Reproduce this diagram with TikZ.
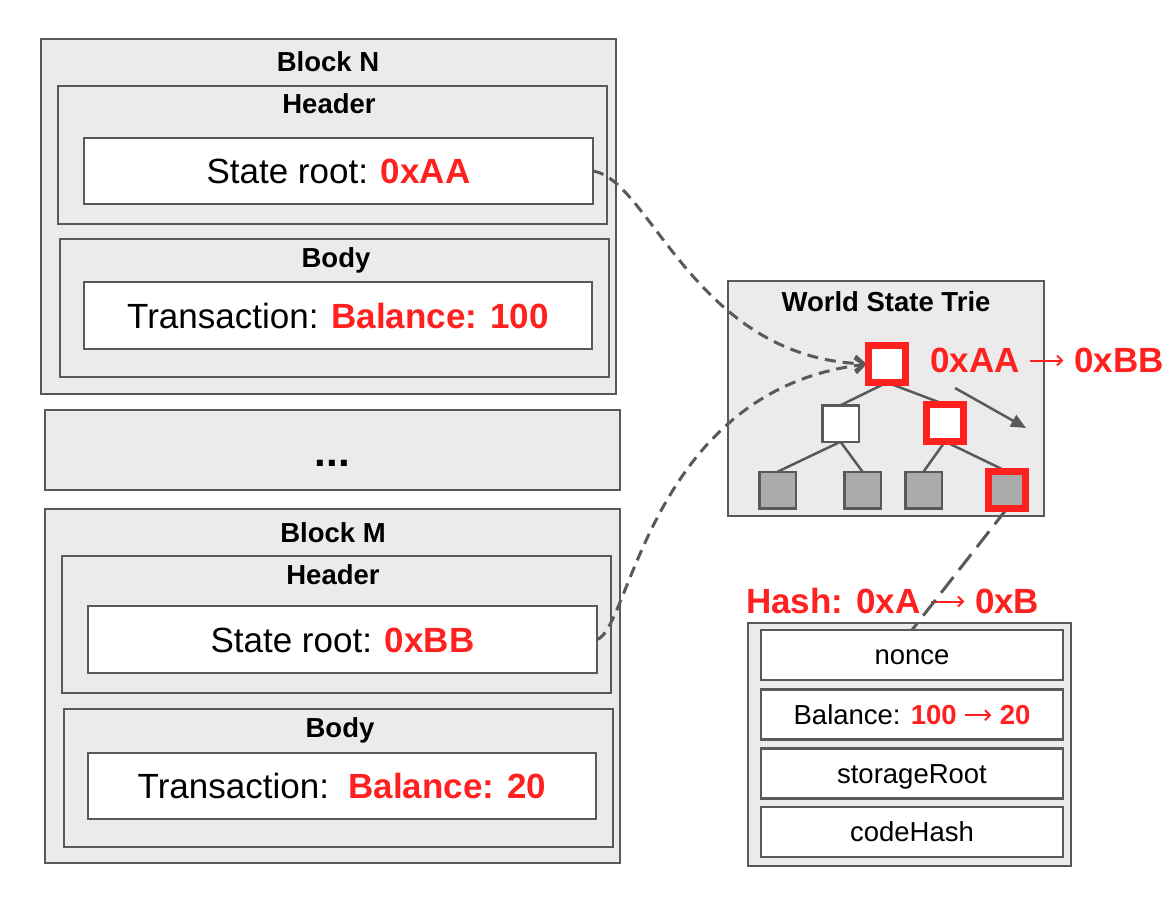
\documentclass[tikz,border=0pt]{standalone}
\usepackage{fontspec}
\setmainfont{Liberation Sans}
\usetikzlibrary{arrows.meta}
\definecolor{lc}{HTML}{595959}
\definecolor{bg}{HTML}{EBEBEB}
\definecolor{leafc}{HTML}{ABABAB}
\definecolor{hl}{HTML}{FF2020}
\pgfdeclarelayer{front}
\pgfsetlayers{main,front}
\newcommand{\bigf}{\fontsize{35}{40}\selectfont}
\newcommand{\midf}{\fontsize{27.5}{32}\selectfont}
\newcommand{\hlb}[1]{\textcolor{hl}{\bfseries #1}}
\newcommand{\tarr}[3]{\tikz[baseline=0pt,x=1pt,y=1pt]{\draw[draw=hl,line width=#3,
  -{Straight Barb[length=5pt,width=10pt,line width=#3]}] (0,#1) -- (#2,#1);}}
\tikzset{
  sz/.style 2 args={minimum width=#1, minimum height=#2},
  outerbox/.style={draw=lc, line width=2.5pt, fill=bg, inner sep=0pt, outer sep=0pt},
  whitebox/.style={draw=lc, line width=2.5pt, fill=white, inner sep=0pt, outer sep=0pt,
    font=\bigf, text height=25pt, text depth=0pt},
  fieldbox/.style={draw=lc, line width=2.5pt, fill=white, inner sep=0pt, outer sep=0pt,
    font=\midf, text height=19.5pt, text depth=0pt, minimum width=302, minimum height=50},
  ttl/.style={font=\midf\bfseries, anchor=base, inner sep=0pt},
  tnode/.style={draw=lc, line width=2.5pt, fill=white, minimum size=36.5, inner sep=0pt, outer sep=0pt},
  tleaf/.style={draw=lc, line width=2.5pt, fill=leafc, minimum size=36.5, inner sep=0pt, outer sep=0pt},
  rnode/.style={draw=hl, line width=7pt, fill=white, minimum size=37, inner sep=0pt, outer sep=0pt},
  rleaf/.style={draw=hl, line width=7pt, fill=leafc, minimum size=37, inner sep=0pt, outer sep=0pt},
  tedge/.style={draw=lc, line width=2.5pt},
  link/.style={draw=lc, line width=3pt, dash pattern=on 11pt off 7pt,
    -{Straight Barb[length=9pt,width=15pt,line width=3pt]}, shorten >=2pt},
  hlink/.style={draw=lc, line width=3pt, dash pattern=on 20pt off 9pt},
}
\begin{document}
\begin{tikzpicture}[x=1pt, y=-1pt]
\useasboundingbox (0,0) rectangle (1176,904);

% Block N
\node[outerbox, sz={575}{355}] (blockN) at (328.5,216.5) {};
\node[ttl] (blockNt) at (328,72) {Block N};
\node[outerbox, sz={549}{138}] (headN) at (332.5,155) {};
\node[ttl] (headNt) at (329,114) {Header};
\node[whitebox, sz={509}{66}] (stN) at (338.5,171) {State root: \hlb{0xAA}};
\node[outerbox, sz={549}{138}] (bodyN) at (334.5,308) {};
\node[ttl] (bodyNt) at (336,268) {Body};
\node[whitebox, sz={508}{67}] (txN) at (338,315.5) {Transaction: \hlb{Balance: 100}};

% dots
\node[outerbox, sz={575}{80}] (dots) at (332.5,450) {};
\node[font=\fontsize{42}{46}\selectfont\bfseries, anchor=base, inner sep=0pt] (dotst) at (332.5,466) {...};

% Block M
\node[outerbox, sz={575}{354}] (blockM) at (332.5,686) {};
\node[ttl] (blockMt) at (333,542) {Block M};
\node[outerbox, sz={549}{137}] (headM) at (336.5,624.5) {};
\node[ttl] (headMt) at (333,584) {Header};
\node[whitebox, sz={509}{67}] (stM) at (342.5,639.5) {State root: \hlb{0xBB}};
\node[outerbox, sz={549}{138}] (bodyM) at (338.5,778) {};
\node[ttl] (bodyMt) at (340,737) {Body};
\node[whitebox, sz={508}{66}] (txM) at (342,786) {Transaction:\ \ \hlb{Balance: 20}};

% World State Trie
\node[outerbox, sz={316}{235}] (trie) at (886,398.5) {};
\node[ttl] (triet) at (886,312) {World State Trie};
\node[font=\bigf\bfseries, anchor=base west, inner sep=0pt, text=hl] (rootlbl) at (930,372.5)
  {0xAA \tarr{12}{33}{2pt} 0xBB};

\begin{pgfonlayer}{front}
\node[rnode] (root) at (887,364) {};
\node[tnode] (lm) at (840.5,423.5) {};
\node[rnode] (rm) at (945,423) {};
\node[tleaf] (l1) at (777.5,490) {};
\node[tleaf] (l2) at (862.5,490) {};
\node[tleaf] (l3) at (923.5,490) {};
\node[rleaf] (l4) at (1007,490) {};
\end{pgfonlayer}

\draw[tedge] (root.south) -- (lm.north);
\draw[tedge] (root.south) -- (rm.north);
\draw[tedge] (lm.south) -- (l1.north);
\draw[tedge] (lm.south) -- (l2.north);
\draw[tedge] (rm.south) -- (l3.north);
\draw[tedge] (rm.south) -- (l4.north);
\coordinate (ta) at (955,388);
\coordinate (tb) at (1026,428);
\draw[draw=lc, line width=2.5pt, -{Triangle[length=15pt,width=13pt]}] (ta) -- (tb);

% Account
\node[outerbox, sz={323}{243}] (acct) at (909.5,744.5) {};
\node[fieldbox] (fnonce) at (912,655) {nonce};
\node[fieldbox] (fbal) at (912,714.5) {Balance: \hlb{100 \tarr{9}{26}{1.8pt} 20}};
\node[fieldbox] (fstor) at (912,773.5) {storageRoot};
\node[fieldbox] (fcode) at (912,832) {codeHash};
\node[font=\bigf\bfseries, anchor=base west, inner sep=0pt, text=hl] (hashlbl) at (746,613.5)
  {Hash: 0xA \tarr{12}{33}{2pt} 0xB};

% connectors
\draw[link] (stN.east) .. controls (650,180) and (695,358) .. (root.west);
\draw[link] (stM.east) .. controls (630,630) and (650,390) .. (root.west);
\draw[hlink] (l4.south) -- (fnonce.north);
\end{tikzpicture}
\end{document}
